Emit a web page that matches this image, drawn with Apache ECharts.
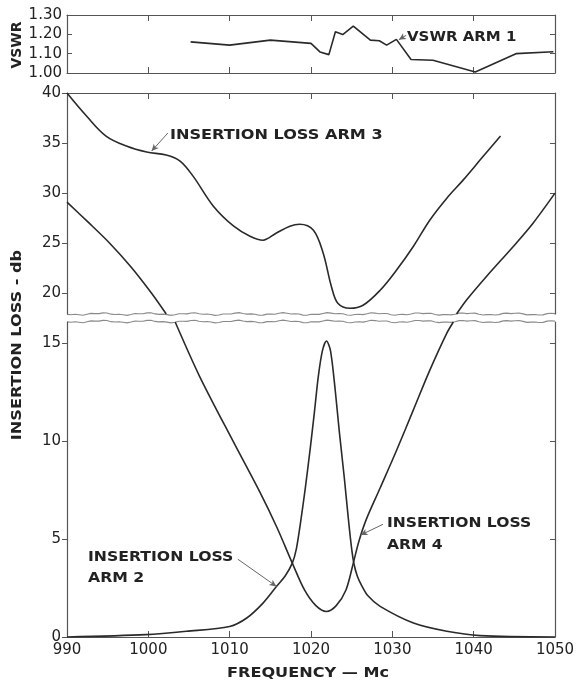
<!DOCTYPE html>
<html><head><meta charset="utf-8">
<script src="https://cdn.jsdelivr.net/npm/echarts@6/dist/echarts.min.js"></script>
<style>html,body{margin:0;padding:0;background:#fff}#c{width:578px;height:683px}</style>
</head><body><div id="c"></div>
<script>
// ---- data ----
const xTicks = [990, 1000, 1010, 1020, 1030, 1040, 1050];
const vswrTicks = [1.00, 1.10, 1.20, 1.30];
const upperTicks = [20, 25, 30, 35, 40];
const lowerTicks = [0, 5, 10, 15];
const upperRange = [17.93, 40];
const lowerRange = [0, 16.07];

const vswrFreq = [1005.2, 1010.0, 1015.0, 1020.0, 1021.1, 1022.2, 1023.0, 1023.9, 1025.2, 1027.3, 1028.4, 1029.3, 1030.5, 1032.3, 1035.0, 1040.2, 1045.2, 1049.8];
const vswrArm1 = [1.161, 1.144, 1.170, 1.153, 1.109, 1.095, 1.213, 1.199, 1.243, 1.170, 1.167, 1.144, 1.174, 1.070, 1.066, 1.005, 1.100, 1.110];

const arm3Freq = [990.0, 992.4, 994.8, 997.3, 999.8, 1002.2, 1003.9, 1005.5, 1008.0, 1010.5, 1012.5, 1014.1, 1015.7, 1017.4, 1018.6, 1020.3, 1021.5, 1022.5, 1023.3, 1024.8, 1026.4, 1028.5, 1030.5, 1032.6, 1034.6, 1036.7, 1038.7, 1041.2, 1043.3];
const arm3Loss = [40.0, 37.7, 35.7, 34.7, 34.1, 33.8, 33.2, 31.7, 28.7, 26.7, 25.7, 25.3, 26.0, 26.7, 26.9, 26.3, 24.0, 20.7, 19.0, 18.5, 18.8, 20.3, 22.3, 24.7, 27.3, 29.5, 31.3, 33.7, 35.7];

const arm4Freq = [990.0, 992.6, 995.25, 997.9, 1000.4, 1002.2, 1003.3, 1006.3, 1010.4, 1013.7, 1015.8, 1017.7, 1019.2, 1020.6, 1021.9, 1023.1, 1024.3, 1025.2, 1025.9, 1026.8, 1028.5, 1030.5, 1032.6, 1034.6, 1036.7, 1037.5, 1037.9, 1039.1, 1041.6, 1044.9, 1047.3, 1050.0];
const arm4Loss = [29.1, 27.1, 25.0, 22.6, 20.0, 17.93, 16.07, 13.3, 10.0, 7.4, 5.6, 3.77, 2.4, 1.6, 1.3, 1.6, 2.4, 3.77, 4.9, 6.0, 7.6, 9.5, 11.6, 13.6, 15.5, 16.07, 17.93, 19.3, 21.7, 24.7, 27.0, 30.0];

const arm2Freq = [990.0, 999.7, 1004.7, 1010.0, 1012.1, 1014.1, 1015.8, 1016.8, 1017.7, 1018.2, 1018.7, 1019.3, 1019.9, 1020.4, 1020.9, 1021.4, 1021.9, 1022.4, 1023.0, 1023.5, 1024.1, 1024.6, 1025.0, 1025.3, 1025.7, 1026.2, 1027.0, 1028.5, 1032.6, 1036.7, 1040.8, 1050.0];
const arm2Loss = [0.0, 0.12, 0.29, 0.54, 0.97, 1.73, 2.6, 3.1, 3.77, 4.5, 5.8, 7.6, 9.6, 11.4, 13.3, 14.6, 15.1, 14.6, 12.5, 10.4, 8.1, 6.0, 4.5, 3.7, 3.1, 2.65, 2.1, 1.56, 0.71, 0.29, 0.07, 0.0];

// ---- chart ----
const pair = (xs, ys) => xs.map((x, i) => [x, ys[i]]);
const within = (xs, ys, lo, hi) => xs.map((x, i) => (ys[i] >= lo - 1e-6 && ys[i] <= hi + 1e-6) ? [x, ys[i]] : [x, '-']);
const FONT = 'DejaVu Sans';
const INK = '#2a2a2a';
const AX = '#555';
const L = 67, W = 488;
const G0 = {left: L, top: 15, width: W, height: 58};
const G1 = {left: L, top: 93, width: W, height: 221};
const G2 = {left: L, top: 322, width: W, height: 315};

function xAx(grid, pos, opts) {
  return Object.assign({
    type: 'value', gridIndex: grid, position: pos, min: 990, max: 1050, interval: 10,
    axisLine: {show: true, onZero: false, lineStyle: {color: AX, width: 1.2}},
    axisTick: {show: true, inside: true, length: 6, lineStyle: {color: AX}, customValues: xTicks.slice(1, -1)},
    axisLabel: {show: false},
    splitLine: {show: false}
  }, opts || {});
}
function yAx(grid, pos, range, ticks, opts) {
  return Object.assign({
    type: 'value', gridIndex: grid, position: pos, min: range[0], max: range[1],
    axisLine: {show: true, onZero: false, lineStyle: {color: AX, width: 1.2}},
    axisTick: {show: true, inside: pos === 'right', length: 5, lineStyle: {color: AX}, customValues: ticks},
    axisLabel: {show: false},
    splitLine: {show: false}
  }, opts || {});
}
const lbl = (cv, fmt, margin) => ({show: true, customValues: cv, fontFamily: FONT, fontSize: 15, color: '#222', margin: margin, formatter: fmt});

function wave(base) {
  const pts = [];
  for (let x = L; x <= L + W; x += 4) {
    const i = (x - L) / 4;
    pts.push([x, base + 0.9 * Math.sin(i * 0.55) + 0.5 * Math.sin(i * 1.7 + 1)]);
  }
  return pts;
}
function txt(t, x, y, opts) {
  opts = opts || {};
  return {
    type: 'text', x: x, y: y, silent: true, rotation: opts.rotation || 0, scaleX: opts.sx || 1.13,
    style: Object.assign({text: t, font: 'bold 14px "' + FONT + '"', fill: '#222',
      textAlign: 'left', textVerticalAlign: 'middle', align: 'left', verticalAlign: 'middle'}, opts.style || {})
  };
}
const lead = (a, b) => ({
  silent: true, symbol: ['none', 'arrow'], symbolSize: [5, 7], animation: false,
  lineStyle: {color: '#666', width: 1, type: 'solid'}, label: {show: false}, emphasis: {disabled: true},
  data: [[{coord: a}, {coord: b}]]
});
const lineS = (xi, yi, data, smooth, extra) => Object.assign({
  type: 'line', xAxisIndex: xi, yAxisIndex: yi, data: data, showSymbol: false, smooth: smooth, clip: true,
  connectNulls: false, lineStyle: {color: INK, width: 1.6}, emphasis: {disabled: true}
}, extra || {});

const chart = echarts.init(document.getElementById('c'), null, {renderer: 'canvas'});
chart.setOption({
  animation: false,
  backgroundColor: '#fff',
  grid: [G0, G1, G2],
  xAxis: [
    xAx(0, 'bottom'),
    xAx(0, 'top'),
    xAx(1, 'top'),
    xAx(1, 'bottom', {axisLine: {show: false}, axisTick: {show: false}}),
    xAx(2, 'bottom', {axisLabel: lbl(xTicks, v => String(v), 6)}),
    xAx(2, 'top', {axisLine: {show: false}, axisTick: {show: false}})
  ],
  yAxis: [
    yAx(0, 'left', [1.0, 1.3], vswrTicks, {axisTick: {show: true, inside: true, length: 5, lineStyle: {color: AX}, customValues: vswrTicks}, axisLabel: lbl(vswrTicks, v => v.toFixed(2), 5)}),
    yAx(0, 'right', [1.0, 1.3], [1.1, 1.2]),
    yAx(1, 'left', upperRange, upperTicks, {axisLabel: lbl(upperTicks, v => String(v), 6)}),
    yAx(1, 'right', upperRange, [20, 25, 30, 35]),
    yAx(2, 'left', lowerRange, lowerTicks, {axisLabel: lbl(lowerTicks, v => String(v), 6)}),
    yAx(2, 'right', lowerRange, [5, 10, 15])
  ],
  series: [
    lineS(0, 0, pair(vswrFreq, vswrArm1), false, {markLine: lead([1031.7, 1.195], [1030.8, 1.172])}),
    lineS(3, 2, pair(arm3Freq, arm3Loss), 0.35, {markLine: lead([1002.4, 36.0], [1000.4, 34.2])}),
    lineS(3, 2, within(arm4Freq, arm4Loss, upperRange[0], upperRange[1]), 0.3),
    lineS(4, 4, within(arm4Freq, arm4Loss, lowerRange[0], lowerRange[1]), 0.3, {markLine: lead([1028.85, 5.75], [1026.1, 5.2])}),
    lineS(4, 4, pair(arm2Freq, arm2Loss), 0.3, {markLine: lead([1011.0, 3.97], [1015.75, 2.58])})
  ],
  graphic: [
    {type: 'polyline', silent: true, shape: {points: wave(314)}, style: {stroke: '#8a8a8a', lineWidth: 1.1, fill: null}},
    {type: 'polyline', silent: true, shape: {points: wave(321.5)}, style: {stroke: '#8a8a8a', lineWidth: 1.1, fill: null}},
    txt('INSERTION LOSS ARM 3', 170, 135, {sx: 1.15}),
    txt('INSERTION LOSS', 88, 557, {sx: 1.12}),
    txt('ARM 2', 88, 578.5, {sx: 1.12}),
    txt('INSERTION LOSS', 387, 523.5, {sx: 1.11}),
    txt('ARM 4', 387, 545, {sx: 1.11}),
    txt('VSWR ARM 1', 407, 37, {sx: 1.07}),
    txt('FREQUENCY — Mc', 308, 673, {sx: 1.15, style: {textAlign: 'center', align: 'center'}}),
    txt('INSERTION LOSS - db', 17, 345, {sx: 1.15, rotation: Math.PI / 2, style: {textAlign: 'center', align: 'center'}}),
    txt('VSWR', 17, 45, {sx: 1.0, rotation: Math.PI / 2, style: {textAlign: 'center', align: 'center'}})
  ]
});
</script></body></html>
